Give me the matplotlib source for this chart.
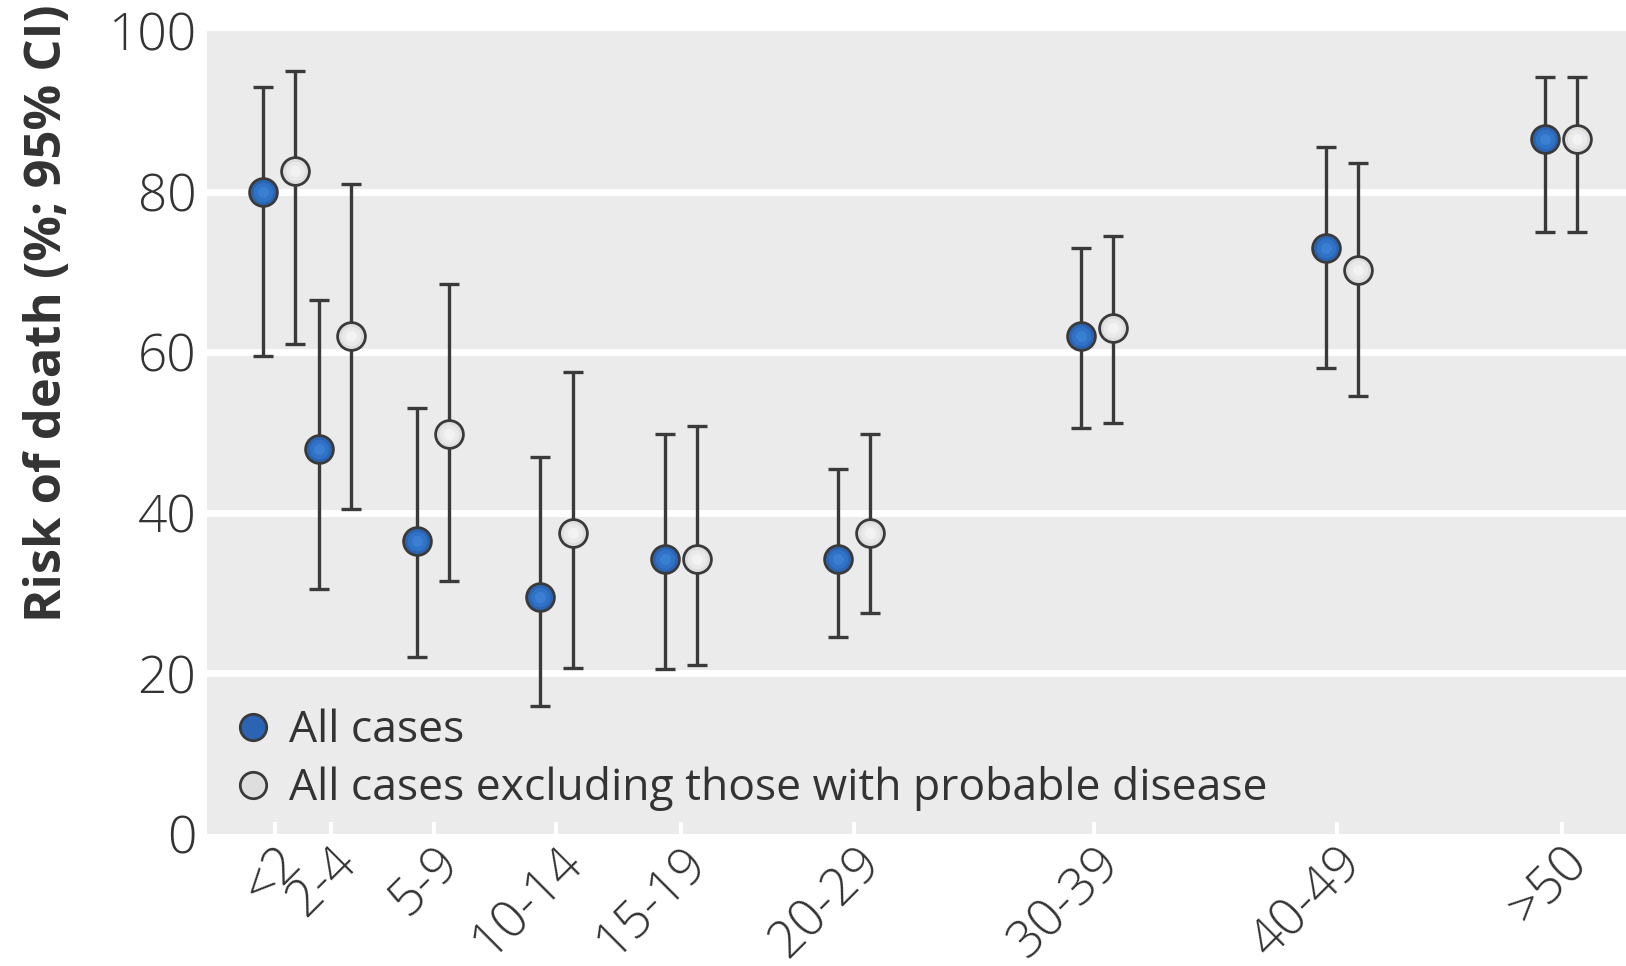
import numpy as np
import matplotlib
matplotlib.use("Agg")
import matplotlib.pyplot as plt
from matplotlib.transforms import ScaledTranslation

# age groups and where they sit on the (non-uniform) x axis
age_labels = ["<2", "2-4", "5-9", "10-14", "15-19", "20-29", "30-39", "40-49", ">50"]
tick_pos = [0.9, 3.2, 7.4, 12.4, 17.5, 24.6, 34.4, 44.3, 53.5]
group_pos = [1.08, 3.37, 7.38, 12.42, 17.5, 24.58, 34.51, 44.51, 53.48]
offset = 0.66

# all cases
all_mid = [80, 48, 36.5, 29.5, 34.3, 34.3, 62, 73, 86.5]
all_lo = [59.5, 30.5, 22, 16, 20.5, 24.5, 50.5, 58, 75]
all_hi = [93, 66.5, 53, 47, 49.8, 45.5, 73, 85.5, 94.2]

# excluding probable disease
excl_mid = [82.5, 62, 49.8, 37.5, 34.3, 37.5, 63, 70.2, 86.5]
excl_lo = [61, 40.5, 31.5, 20.7, 21, 27.5, 51.2, 54.5, 75]
excl_hi = [95, 81, 68.5, 57.5, 50.8, 49.8, 74.5, 83.5, 94.2]

plt.rcParams['font.family'] = ['Open Sans', 'DejaVu Sans']

fig = plt.figure(figsize=(16.26, 9.66), dpi=100)
ax = fig.add_axes([0.1276, 0.1366, 0.8724, 0.8314])
ax.set_facecolor("#ebebeb")

x = np.array(group_pos)
ink = "#3a3a3a"

series = [
    (x - offset, all_mid, all_lo, all_hi, ["#2a64b2", "#3073c6", "#3a7fd2"], "All cases"),
    (x + offset, excl_mid, excl_lo, excl_hi, ["#dedede", "#e9e9e9", "#f2f2f2"],
     "All cases excluding those with probable disease"),
]
for xs, mid, lo, hi, shades, lab in series:
    mid = np.array(mid)
    yerr = [mid - np.array(lo), np.array(hi) - mid]
    ax.errorbar(xs, mid, yerr=yerr, fmt="none", ecolor=ink, elinewidth=2.4,
                capsize=7.5, capthick=2.4, zorder=3)
    ax.plot(xs, mid, "o", ms=20, mfc=shades[0], mec=ink, mew=2, ls="none",
            zorder=4, label=lab)
    # soft shading to mimic the glossy markers
    ax.plot(xs, mid, "o", ms=14, mfc=shades[1], mec="none", ls="none", zorder=5)
    ax.plot(xs, mid, "o", ms=8, mfc=shades[2], mec="none", ls="none", zorder=6)

ax.set_xlim(-1.84, 56.13)
ax.set_ylim(0, 100)
ax.set_yticks([0, 20, 40, 60, 80, 100])
for yy in [20, 40, 60, 80]:
    ax.axhline(yy, color="white", lw=5, zorder=1)

ax.set_xticks(tick_pos)
ax.set_xticklabels(age_labels, rotation=45, ha="right", va="top",
                   rotation_mode="anchor", fontsize=37, color="#333333",
                   fontweight="light")
shift = ScaledTranslation(0.09, 0.22, fig.dpi_scale_trans)
for t in ax.get_xticklabels():
    t.set_transform(t.get_transform() + shift)
for t in ax.get_yticklabels():
    t.set_fontsize(37)
    t.set_color("#333333")
    t.set_fontweight("light")
ax.tick_params(axis="x", direction="in", length=9, width=3, color="white", pad=2)
ax.tick_params(axis="y", length=0, pad=8)

for s in ax.spines.values():
    s.set_visible(False)

ax.set_ylabel("Risk of death (%; 95% CI)", fontsize=36.5, fontweight="bold",
              color="#333333")
ax.yaxis.set_label_coords(-0.095, 0.649)

leg = ax.legend(loc="lower left", bbox_to_anchor=(0.004, 0.006), borderaxespad=0,
                frameon=False, fontsize=32, handletextpad=0.3, labelspacing=0.3,
                markerscale=0.95, handlelength=1.0)
for t in leg.get_texts():
    t.set_color("#333333")

fig.savefig("out.png", dpi=100, facecolor="white")
